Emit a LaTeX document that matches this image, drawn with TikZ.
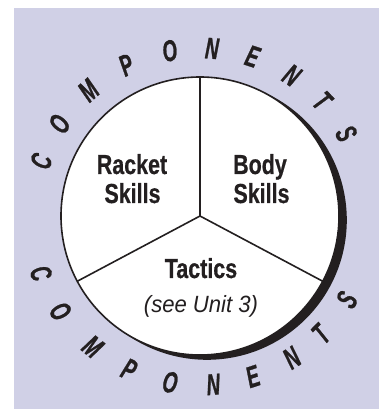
\documentclass[tikz,border=0pt]{standalone}
\usepackage{fontspec}
\setmainfont{Liberation Sans}
\newfontfamily\labfont{Liberation Sans}[FakeStretch=0.78,FakeBold=0.6]
\newfontfamily\itfont{Liberation Sans}[FakeStretch=0.94]
\newfontfamily\arcfont{Liberation Sans}[FakeStretch=0.62,FakeBold=0.8]
\definecolor{bgl}{RGB}{208,208,230}
\definecolor{ink}{RGB}{35,31,32}
\tikzset{
  lab/.style={font=\labfont\bfseries\fontsize{27.5}{30}\selectfont, text=ink, anchor=base, inner sep=0pt},
  ital/.style={font=\itfont\itshape\fontsize{23.5}{26}\selectfont, text=ink, anchor=base, inner sep=0pt},
  arcl/.style={font=\arcfont\bfseries\itshape\fontsize{30}{32}\selectfont, text=ink, inner sep=0pt, anchor=center},
  rim/.style={line width=1.6pt, draw=ink},
}
\begin{document}
\begin{tikzpicture}[x=1pt,y=1pt]
\useasboundingbox (-200,-193) rectangle (179,216);
\fill[bgl] (-186,-193) rectangle (179,208);
% shadow
\fill[ink] (7,-4) circle (139.8);
% disc
\coordinate (c) at (0,0);
\draw[rim, fill=white] (c) circle (139);
\coordinate (s1) at (90:139);
\coordinate (s2) at (-28:139);
\coordinate (s3) at (208:139);
\draw[rim] (c) -- (s1);
\draw[rim] (c) -- (s2);
\draw[rim] (c) -- (s3);
% labels
\node[lab] (r1) at (-68,42) {Racket};
\node[lab] (r2) at (-67.5,13) {Skills};
\node[lab] (bd1) at (60,42) {Body};
\node[lab] (bd2) at (61.5,13) {Skills};
\node[lab] (tc1) at (1,-62) {Tactics};
\node[ital] (tc2) at (1,-96) {(see Unit 3)};
% arc text top
\foreach \a/\l [count=\i] in {161/C,146.8/O,131.6/M,116/P,100.4/O,85.9/N,71.8/E,56.9/N,43.3/T,29.4/S}
  \node[arcl, rotate=\a-90] (t\i) at (\a:168) {\l};
% arc text bottom
\foreach \a/\l [count=\i] in {199.8/C,214.3/O,230.6/M,245.2/P,259.8/O,274.5/N,288.2/E,302.9/N,315.7/T,330.3/S}
  \node[arcl, rotate=\a+90] (b\i) at (\a:169) {\l};
\end{tikzpicture}
\end{document}
